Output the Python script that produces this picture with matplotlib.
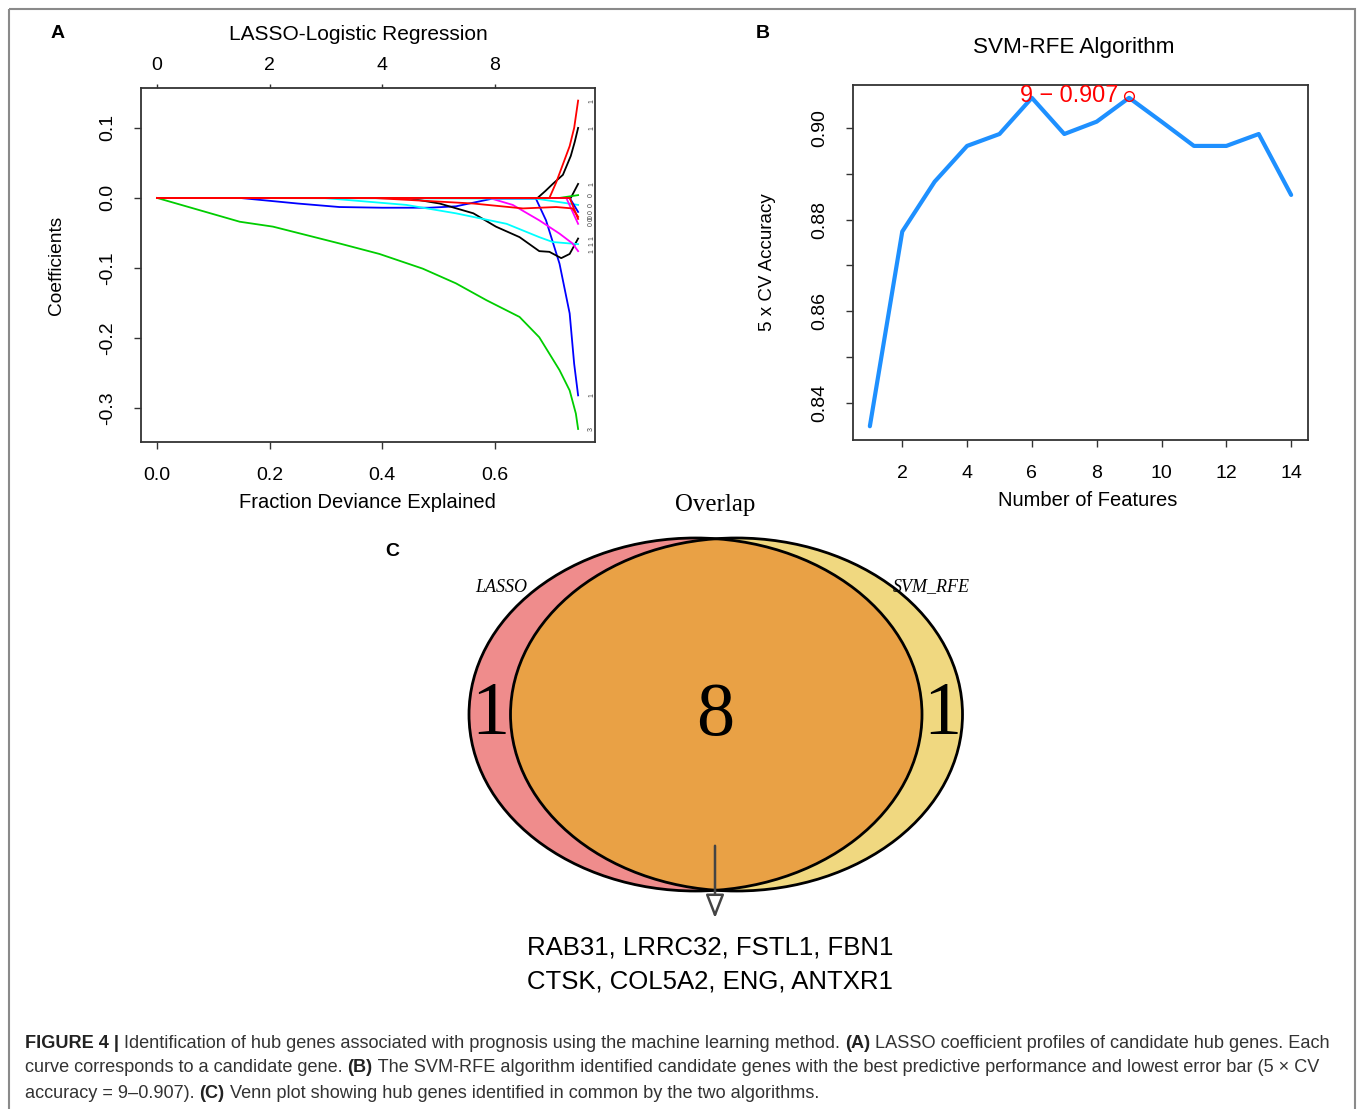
import numpy as np
import matplotlib.pyplot as plt
from matplotlib.patches import Ellipse, Rectangle, FancyArrowPatch

plt.rcParams['font.family'] = ['Liberation Sans', 'DejaVu Sans']

W, H = 1358, 1109

# ---- panel A: LASSO coefficient paths (fraction deviance explained vs coefficient)
lasso_paths = [
    # (colour, x, y)
    ("#00CD00", [0, 0.147, 0.206, 0.324, 0.395, 0.472, 0.531, 0.585, 0.644, 0.679, 0.715, 0.733, 0.744, 0.748],
     [0, -0.034, -0.041, -0.065, -0.080, -0.101, -0.122, -0.146, -0.170, -0.199, -0.246, -0.275, -0.308, -0.330]),
    ("blue", [0, 0.147, 0.25, 0.324, 0.40, 0.484, 0.531, 0.596, 0.673, 0.691, 0.715, 0.733, 0.741, 0.748],
     [0, 0, -0.008, -0.013, -0.014, -0.014, -0.012, -0.001, -0.001, -0.032, -0.094, -0.165, -0.237, -0.282]),
    ("black", [0, 0.443, 0.502, 0.562, 0.602, 0.644, 0.679, 0.697, 0.718, 0.733, 0.748],
     [0, 0, -0.008, -0.022, -0.041, -0.056, -0.076, -0.077, -0.086, -0.080, -0.058]),
    ("cyan", [0, 0.295, 0.443, 0.531, 0.621, 0.679, 0.703, 0.748],
     [0, 0, -0.010, -0.022, -0.037, -0.056, -0.063, -0.066]),
    ("magenta", [0, 0.590, 0.632, 0.679, 0.715, 0.738, 0.748],
     [0, 0, -0.010, -0.032, -0.051, -0.065, -0.076]),
    ("black", [0, 0.676, 0.690, 0.703, 0.721, 0.735, 0.742, 0.748],
     [0, 0, 0.010, 0.020, 0.033, 0.060, 0.080, 0.100]),
    ("black", [0, 0.735, 0.748], [0, 0, 0.020]),
    ("#00CD00", [0, 0.715, 0.748], [0, 0, 0.004]),
    ("cyan", [0, 0.673, 0.748], [0, -0.001, -0.010]),
    ("blue", [0, 0.733, 0.748], [0, 0, -0.020]),
    ("magenta", [0, 0.727, 0.748], [0, 0, -0.037]),
    ("red", [0, 0.733, 0.748], [0, 0, -0.030]),
    ("red", [0, 0.383, 0.562, 0.650, 0.709, 0.738, 0.748],
     [0, 0, -0.008, -0.015, -0.013, -0.015, -0.027]),
    ("red", [0, 0.697, 0.709, 0.721, 0.733, 0.741, 0.748],
     [0, 0, 0.022, 0.048, 0.074, 0.100, 0.139]),
]
end_labels = ["3", "1", "1", "1", "1", "1", "1", "0", "0", "0", "0", "0", "0", "1"]
dev_ticks = [0.0, 0.2, 0.4, 0.6]
nz_labels = ["0", "2", "4", "8"]
coef_ticks = [-0.3, -0.2, -0.1, 0.0, 0.1]

# ---- panel B: SVM-RFE accuracy
n_features = list(range(1, 15))
cv_accuracy = [0.8349, 0.8774, 0.8883, 0.8961, 0.8987, 0.9066, 0.8987,
               0.9014, 0.9066, 0.9014, 0.8961, 0.8961, 0.8987, 0.8854]
best_n, best_acc = 9, 0.907

# ---- panel C: Venn counts and genes
venn_counts = {"LASSO": 1, "both": 8, "SVM_RFE": 1}
hub_genes = ["RAB31", "LRRC32", "FSTL1", "FBN1", "CTSK", "COL5A2", "ENG", "ANTXR1"]


def box(l, t, r, b):
    return [l / W, 1 - b / H, (r - l) / W, (b - t) / H]


fig = plt.figure(figsize=(W / 100, H / 100), dpi=100)


def T(x, y, s, **kw):
    kw.setdefault("ha", "center")
    kw.setdefault("va", "center")
    return fig.text(x / W, 1 - y / H, s, **kw)


frame_col = "#333333"


def r_style(ax):
    for sp in ax.spines.values():
        sp.set_color(frame_col)
        sp.set_linewidth(1.3)
    ax.tick_params(length=5, width=1, color=frame_col, labelsize=14, pad=13)


# ---------------- panel A
axA = fig.add_axes(box(141, 88, 595, 442))
for col, xs, ys in lasso_paths:
    axA.plot(xs, ys, color=col, lw=1.3)
for (col, xs, ys), lab in zip(lasso_paths, end_labels):
    axA.text(0.772, ys[-1], lab, fontsize=5, rotation=90, ha="center", va="center", color="#444")
axA.set_xlim(-0.0284, 0.778)
axA.set_ylim(-0.3486, 0.157)
axA.set_xticks(dev_ticks)
axA.set_xticklabels([f"{v:.1f}" for v in dev_ticks])
axA.set_yticks(coef_ticks)
axA.set_yticklabels([f"{v:.1f}" for v in coef_ticks], rotation=90, va="center")
r_style(axA)
topA = axA.secondary_xaxis("top")
topA.set_xticks(dev_ticks)
topA.set_xticklabels(nz_labels)
topA.tick_params(length=3, width=1, color=frame_col, labelsize=14, pad=7)
topA.spines["top"].set_visible(False)

T(358, 35, "LASSO-Logistic Regression", fontsize=15)
T(367, 503, "Fraction Deviance Explained", fontsize=14.5)
T(57, 265, "Coefficients", fontsize=13.8, rotation=90)
T(58, 34, "A", fontsize=14, weight="bold")

# ---------------- panel B
axB = fig.add_axes(box(853, 85, 1308, 440))
axB.plot(n_features, cv_accuracy, color="#1E90FF", lw=3, solid_capstyle="round")
axB.plot([best_n], [best_acc], "o", ms=7, mfc="none", mec="red", mew=1)
axB.text(best_n - 0.35, best_acc, "9 \u2212 0.907", color="red", fontsize=16.8,
         ha="right", va="center")
axB.set_xlim(0.48, 14.52)
axB.set_ylim(0.8319, 0.9094)
axB.set_xticks(range(2, 15, 2))
yt = [0.84, 0.85, 0.86, 0.87, 0.88, 0.89, 0.90]
axB.set_yticks(yt)
axB.set_yticklabels([f"{v:.2f}" if i % 2 == 0 else "" for i, v in enumerate(yt)],
                    rotation=90, va="center")
r_style(axB)
T(1074, 47, "SVM-RFE Algorithm", fontsize=16.2)
T(1088, 500, "Number of Features", fontsize=14.5)
T(768, 262, "5 x CV Accuracy", fontsize=13.5, rotation=90)
T(763, 34, "B", fontsize=14, weight="bold")

# ---------------- panel C: Venn
axC = fig.add_axes([0, 0, 1, 1], zorder=-1)
axC.set_xlim(0, W)
axC.set_ylim(H, 0)
axC.axis("off")
lasso_e = dict(xy=(695.5, 714.5), width=453, height=353)
svm_e = dict(xy=(736.5, 714.5), width=452, height=353)
axC.add_patch(Ellipse(**lasso_e, facecolor="#EF8C8C", edgecolor="none"))
svm_patch = Ellipse(**svm_e, facecolor="#F0D880", edgecolor="none")
axC.add_patch(svm_patch)
inter = Ellipse(**lasso_e, facecolor="#E9A145", edgecolor="none")
axC.add_patch(inter)
inter.set_clip_path(svm_patch)
axC.add_patch(Ellipse(**lasso_e, facecolor="none", edgecolor="black", lw=2))
axC.add_patch(Ellipse(**svm_e, facecolor="none", edgecolor="black", lw=2))
axC.add_patch(FancyArrowPatch((715, 843), (715, 921), arrowstyle="-|>,head_length=9,head_width=3.5",
                              mutation_scale=1.6, color="#444", fc="white", lw=1.8))
axC.add_patch(Rectangle((8.5, 8.5), 1346.5, 1105, fill=False, edgecolor="#8a8a8a", lw=1.5))

serif = ["Liberation Serif", "DejaVu Serif"]
T(715, 505, "Overlap", fontsize=17.9, family=serif)
T(501, 587, "LASSO", fontsize=13, family=serif, style="italic")
T(931, 587, "SVM_RFE", fontsize=13, family=serif, style="italic")
T(490, 716, str(venn_counts["LASSO"]), fontsize=55, family=serif)
T(715, 716, str(venn_counts["both"]), fontsize=55, family=serif)
T(942, 716, str(venn_counts["SVM_RFE"]), fontsize=55, family=serif)
T(392, 552, "C", fontsize=14, weight="bold")
T(710, 948, ", ".join(hub_genes[:4]), fontsize=18.5)
T(710, 982, ", ".join(hub_genes[4:]), fontsize=18.5)

# ---------------- caption
renderer = fig.canvas.get_renderer()


def text_w(s, **kw):
    t = fig.text(0, 0, "|" + s + "|", **kw)
    w1 = t.get_window_extent(renderer).width
    t.remove()
    t = fig.text(0, 0, "||", **kw)
    w2 = t.get_window_extent(renderer).width
    t.remove()
    return w1 - w2


cap_lines = [
    [("FIGURE 4 | ", True), ("Identification of hub genes associated with prognosis using the machine learning method. ", False),
     ("(A)", True), (" LASSO coefficient profiles of candidate hub genes. Each", False)],
    [("curve corresponds to a candidate gene. ", False), ("(B)", True),
     (" The SVM-RFE algorithm identified candidate genes with the best predictive performance and lowest error bar (5 \u00d7 CV", False)],
    [("accuracy = 9\u20130.907). ", False), ("(C)", True),
     (" Venn plot showing hub genes identified in common by the two algorithms.", False)],
]
base = 13
w2 = sum(text_w(s, fontsize=base, weight="bold" if b else "normal") for s, b in cap_lines[1])
cap_size = base * (1322 - 25) / w2
for line, yy in zip(cap_lines, [1043, 1068, 1093]):
    x = 25
    for s, b in line:
        kw = dict(fontsize=cap_size, weight="bold" if b else "normal")
        T(x, yy, s, ha="left", color="#222" if b else "#333", **kw)
        x += text_w(s, **kw)

fig.savefig("out.png", dpi=100)
